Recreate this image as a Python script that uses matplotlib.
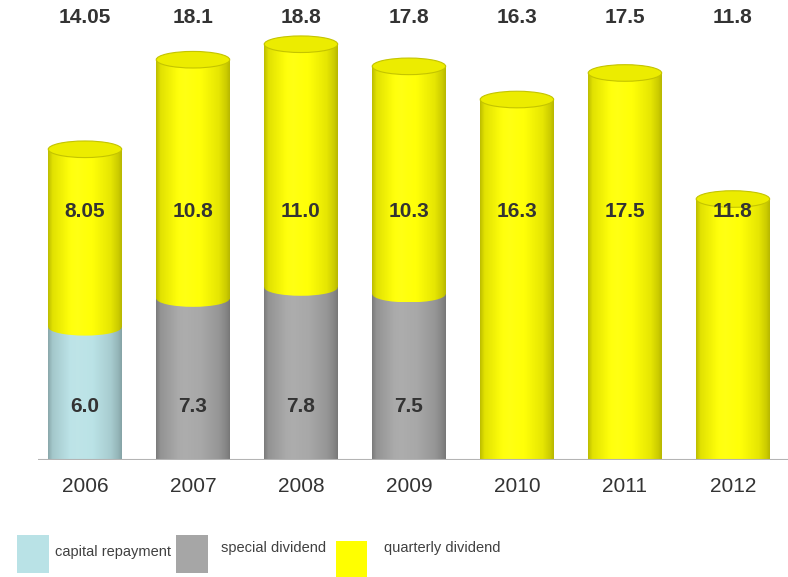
import numpy as np
import matplotlib
matplotlib.use("Agg")
import matplotlib.pyplot as plt
from matplotlib.patches import Ellipse, Rectangle
from matplotlib.colors import to_rgb

# ---- data ----
years = ['2006', '2007', '2008', '2009', '2010', '2011', '2012']
capital_repayment = [6.0, 0, 0, 0, 0, 0, 0]
special_dividend = [0, 7.3, 7.8, 7.5, 0, 0, 0]
quarterly_dividend = [8.05, 10.8, 11.0, 10.3, 16.3, 17.5, 11.8]
total_labels = ['14.05', '18.1', '18.8', '17.8', '16.3', '17.5', '11.8']
lower_labels = ['6.0', '7.3', '7.8', '7.5', '', '', '']
upper_labels = ['8.05', '10.8', '11.0', '10.3', '16.3', '17.5', '11.8']
series_names = ['capital repayment', 'special dividend', 'quarterly dividend']

colors = ['#b9e2e6', '#a6a6a6', '#ffff00']
top_colors = ['#aed6da', '#a0a0a0', '#ecec00']
edge_colors = ['#9fc2c6', '#8a8a8a', '#c4c400']

W, H = 788, 577
fig = plt.figure(figsize=(W / 100, H / 100), dpi=100)
ax = fig.add_axes([38 / W, 117 / H, 750 / W, 460 / H])
ax.set_xlim(-0.435, 6.51)
ax.set_ylim(0, 20.8)
ax.axis('off')

bw = 0.68
eh = 0.75
prof_t = np.linspace(0, 1, 200)
# cylinder shading profile
shade = np.interp(prof_t, [0, 0.06, 0.3, 0.6, 0.85, 0.95, 1.0],
                  [0.74, 0.88, 1.0, 1.0, 0.9, 0.8, 0.72])
light = np.interp(prof_t, [0, 0.25, 0.4, 0.55, 1.0], [0, 0.1, 0.22, 0.1, 0])


def grad_img(c):
    rgb = np.array(to_rgb(c))
    img = rgb[None, :] * shade[:, None]
    img = img + (1 - img) * light[:, None] * 0.35
    return np.clip(img[None, :, :], 0, 1)


def draw_segment(x, bottom, top, ci, z):
    img = grad_img(colors[ci])
    ax.imshow(img, extent=[x - bw / 2, x + bw / 2, bottom, top], aspect='auto',
              interpolation='bilinear', zorder=z)
    im2 = ax.imshow(img, extent=[x - bw / 2, x + bw / 2, bottom - eh / 2, bottom + eh / 2],
                    aspect='auto', interpolation='bilinear', zorder=z)
    clip = Ellipse((x, bottom), bw, eh, transform=ax.transData)
    im2.set_clip_path(clip)


stacks = [capital_repayment, special_dividend, quarterly_dividend]
for i in range(len(years)):
    bottom = 0.0
    z = 2
    last = None
    for ci, vals in enumerate(stacks):
        v = vals[i]
        if v <= 0:
            continue
        draw_segment(i, bottom, bottom + v, ci, z)
        z += 0.1
        bottom += v
        last = ci
    ax.add_patch(Ellipse((i, bottom), bw, eh, facecolor=top_colors[last],
                         edgecolor=edge_colors[last], linewidth=0.8, zorder=z + 0.1))

ax.axhline(0, color='#b4b4b4', linewidth=1.5, zorder=10, xmin=-0.01)

txt_color = '#333333'
for i in range(len(years)):
    ax.text(i, 20.0, total_labels[i], ha='center', va='center', fontsize=15,
            fontweight='bold', color=txt_color, family='Liberation Sans', zorder=11)
    ax.text(i, 11.25, upper_labels[i], ha='center', va='center', fontsize=15,
            fontweight='bold', color=txt_color, family='Liberation Sans', zorder=11)
    if lower_labels[i]:
        ax.text(i, 2.4, lower_labels[i], ha='center', va='center', fontsize=15,
                fontweight='bold', color=txt_color, family='Liberation Sans', zorder=11)
    ax.text(i, -1.18, years[i], ha='center', va='center', fontsize=15,
            color=txt_color, family='Liberation Sans', zorder=11, clip_on=False)

# legend
leg_boxes = [(17, 535, 32, 38), (176, 535, 32, 38), (336, 541, 31, 36)]
leg_text = [(55, 552), (221, 548), (384, 548)]
for k in range(3):
    x0, y0, w, h = leg_boxes[k]
    fig.add_artist(Rectangle((x0 / W, 1 - (y0 + h) / H), w / W, h / H,
                             transform=fig.transFigure, facecolor=colors[k],
                             edgecolor='none'))
    tx, ty = leg_text[k]
    fig.text(tx / W, 1 - ty / H, series_names[k], ha='left', va='center',
             fontsize=10.5, color='#404040', family='Liberation Sans')

fig.savefig('out.png', dpi=100)
